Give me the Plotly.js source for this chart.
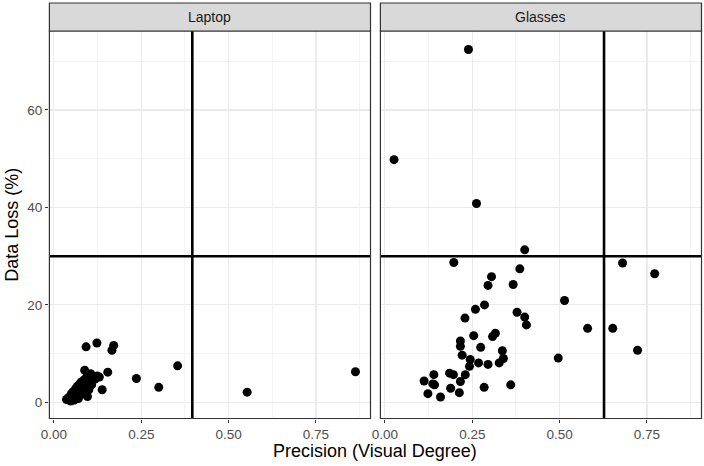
<!DOCTYPE html>
<html>
<head>
<meta charset="utf-8">
<script src="https://cdn.plot.ly/plotly-3.0.1.min.js"></script>
<style>html,body{margin:0;padding:0;background:#fff;}#chart{width:704px;height:466px;}</style>
</head>
<body>
<div id="chart"></div>
<script>
// ---- data ----
const panelNames = ["Laptop", "Glasses"];
const thresholdPrecision = [0.396, 0.627];
const thresholdLoss = [30, 30];

const laptopPrecision = [0.036,0.042,0.048,0.050,0.052,0.055,0.058,0.060,0.062,0.065,0.067,0.068,0.070,0.072,0.074,0.075,0.078,0.080,0.082,0.085,0.086,0.088,0.090,0.092,0.094,0.096,0.098,0.100,0.102,0.105,0.108,0.112,0.118,0.124,0.130,0.138,0.154,0.092,0.123,0.166,0.171,0.236,0.300,0.354,0.553,0.863];
const laptopLoss = [0.6,1.0,0.3,1.8,0.9,2.2,0.5,1.4,2.8,1.0,3.3,1.9,0.8,2.5,3.8,1.5,4.2,2.9,3.5,2.0,4.6,6.6,3.2,5.0,4.0,1.2,5.6,2.6,4.5,5.9,3.6,5.3,4.8,5.4,5.2,2.6,6.2,11.4,12.2,10.7,11.7,4.9,3.1,7.5,2.1,6.3];

const glassesPrecision = [0.026,0.239,0.262,0.400,0.197,0.680,0.772,0.386,0.305,0.295,0.367,0.285,0.259,0.229,0.378,0.400,0.405,0.514,0.580,0.652,0.723,0.496,0.254,0.308,0.316,0.216,0.216,0.274,0.336,0.339,0.221,0.244,0.268,0.295,0.327,0.242,0.230,0.185,0.196,0.140,0.216,0.112,0.137,0.142,0.188,0.213,0.123,0.159,0.284,0.360];
const glassesLoss = [49.8,72.4,40.8,31.3,28.7,28.6,26.4,27.4,25.8,24.0,24.2,20.0,19.1,17.3,18.5,17.5,15.9,20.9,15.2,15.2,10.7,9.1,13.7,13.5,14.2,12.6,11.5,11.3,10.6,9.0,9.7,8.8,8.1,7.8,8.1,7.4,5.7,6.0,5.7,5.7,4.3,4.4,3.8,3.6,2.9,2.0,1.8,1.1,3.1,3.6];

const xTickVals = [0, 0.25, 0.5, 0.75];
const yTickVals = [0, 20, 40, 60];

// ---- layout ----
const W = 704, H = 466;
const panelTop = 1 - 31 / H, panelBottom = 1 - 418.5 / H;
const stripTop = 1 - 3 / H;
const xRange = [-0.013, 0.906];
const yRange = [-3.3, 76.2];
const font = "Liberation Sans, Arial, sans-serif";
const grid = "#EBEBEB";
const tickSize = 13.5;

const marker = {color: "#000000", size: 9};
const traces = [
  {x: laptopPrecision, y: laptopLoss, type: "scatter", mode: "markers", marker: marker, xaxis: "x", yaxis: "y", hoverinfo: "x+y"},
  {x: glassesPrecision, y: glassesLoss, type: "scatter", mode: "markers", marker: marker, xaxis: "x2", yaxis: "y2", hoverinfo: "x+y"}
];

function xaxis(domain, anchor) {
  return {
    domain: domain, range: xRange, tickvals: xTickVals, tickformat: ".2f", anchor: anchor,
    ticks: "outside", ticklen: 3.5, tickcolor: "#333333", tickwidth: 1,
    tickfont: {family: font, size: tickSize, color: "#4D4D4D"},
    showgrid: true, gridcolor: grid, gridwidth: 1.1, zeroline: false, showline: false,
    minor: {dtick: 0.125, tick0: 0, showgrid: true, gridcolor: grid, gridwidth: 0.6, ticks: ""}
  };
}
function yaxis(showLabels, anchor) {
  return {
    domain: [panelBottom, panelTop], range: yRange, tickvals: yTickVals,
    ticks: showLabels ? "outside" : "", ticklen: 3.5, tickcolor: "#333333", tickwidth: 1,
    showticklabels: showLabels, anchor: anchor,
    tickfont: {family: font, size: tickSize, color: "#4D4D4D"},
    showgrid: true, gridcolor: grid, gridwidth: 1.1, zeroline: false, showline: false,
    minor: {dtick: 10, tick0: 0, showgrid: true, gridcolor: grid, gridwidth: 0.6, ticks: ""}
  };
}

const dom1 = [49.4 / W, 370.5 / W];
const dom2 = [380.4 / W, 701.5 / W];

const shapes = [];
const annotations = [];
const axX = ["x", "x2"], axY = ["y", "y2"];
for (let i = 0; i < 2; i++) {
  shapes.push({type: "line", xref: axX[i], yref: axY[i] + " domain", x0: thresholdPrecision[i], x1: thresholdPrecision[i], y0: 0, y1: 1, line: {color: "#000", width: 2.6}});
  shapes.push({type: "line", xref: axX[i] + " domain", yref: axY[i], x0: 0, x1: 1, y0: thresholdLoss[i], y1: thresholdLoss[i], line: {color: "#000", width: 2.6}});
  shapes.push({type: "rect", xref: axX[i] + " domain", yref: axY[i] + " domain", x0: 0, x1: 1, y0: 0, y1: 1, line: {color: "#333333", width: 1.2}, fillcolor: "rgba(0,0,0,0)"});
  shapes.push({type: "rect", xref: axX[i] + " domain", yref: "paper", x0: 0, x1: 1, y0: panelTop, y1: stripTop, line: {color: "#333333", width: 1.2}, fillcolor: "#D9D9D9"});
  annotations.push({text: panelNames[i], xref: axX[i] + " domain", yref: "paper", x: 0.5, y: (panelTop + stripTop) / 2, showarrow: false, xanchor: "center", yanchor: "middle", font: {family: font, size: 14, color: "#1A1A1A"}});
}
annotations.push({text: "Precision (Visual Degree)", xref: "paper", yref: "paper", x: (dom1[0] + dom2[1]) / 2, y: 1 - 451 / H, showarrow: false, xanchor: "center", yanchor: "middle", font: {family: font, size: 18, color: "#000"}});
annotations.push({text: "Data Loss (%)", xref: "paper", yref: "paper", x: 12 / W, y: (panelTop + panelBottom) / 2, textangle: -90, showarrow: false, xanchor: "center", yanchor: "middle", font: {family: font, size: 18, color: "#000"}});

const layout = {
  width: W, height: H,
  margin: {l: 0, r: 0, t: 0, b: 0},
  paper_bgcolor: "#ffffff", plot_bgcolor: "#ffffff",
  showlegend: false,
  xaxis: xaxis(dom1, "y"),
  xaxis2: xaxis(dom2, "y2"),
  yaxis: yaxis(true, "x"),
  yaxis2: yaxis(false, "x2"),
  shapes: shapes,
  annotations: annotations,
  font: {family: font}
};

Plotly.newPlot("chart", traces, layout, {displayModeBar: false, staticPlot: true});
</script>
</body>
</html>
